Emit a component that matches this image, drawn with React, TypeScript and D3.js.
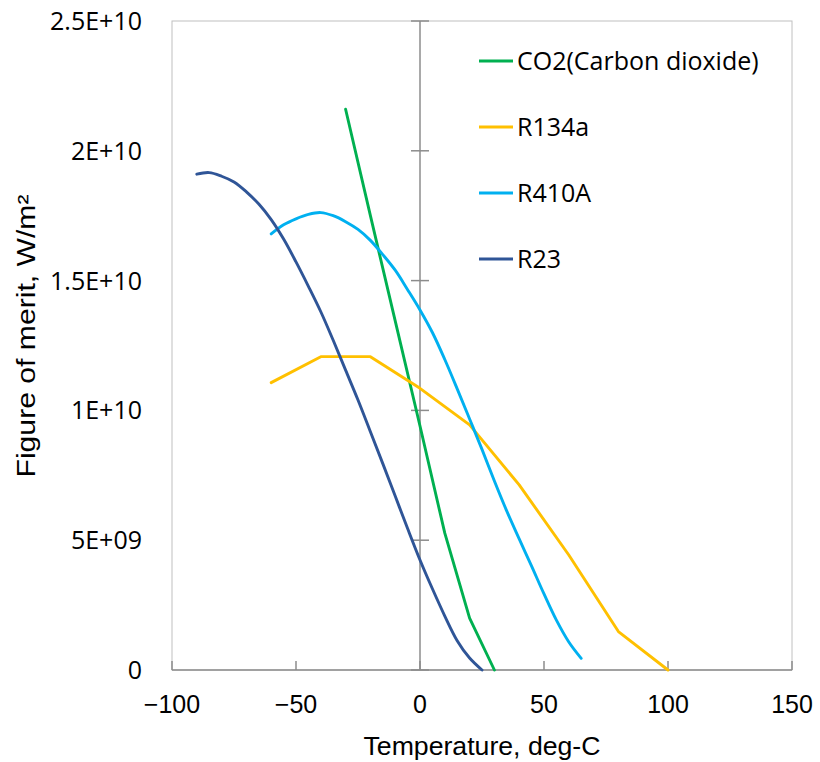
import React from "react";
import * as d3 from "d3";

// ---- data (values in units of 1E+10 W/m^2) ----
const co2T = [-30, -20, -10, 0, 10, 20, 30];
const co2V = [2.16, 1.75, 1.345, 0.94, 0.527, 0.2, 0];

const r134aT = [-60, -40, -20, 0, 20, 40, 60, 80, 100];
const r134aV = [1.107, 1.207, 1.207, 1.085, 0.944, 0.713, 0.443, 0.148, 0];

const r410aT = [-60, -55, -50, -45, -40, -35, -30, -25, -20, -15, -10, -5, 0, 5, 10, 15, 20, 25, 30, 35, 40, 45, 50, 55, 60, 65];
const r410aV = [1.68, 1.715, 1.738, 1.755, 1.762, 1.75, 1.727, 1.697, 1.655, 1.6, 1.54, 1.465, 1.387, 1.3, 1.196, 1.083, 0.967, 0.85, 0.728, 0.612, 0.505, 0.4, 0.293, 0.192, 0.108, 0.045];

const r23T = [-90, -85, -80, -75, -70, -65, -60, -55, -50, -45, -40, -35, -30, -25, -20, -15, -10, -5, 0, 5, 10, 15, 20, 25];
const r23V = [1.91, 1.916, 1.902, 1.88, 1.842, 1.795, 1.735, 1.66, 1.572, 1.478, 1.38, 1.27, 1.155, 1.04, 0.918, 0.795, 0.67, 0.545, 0.424, 0.313, 0.208, 0.113, 0.046, 0];

const seriesNames = ["CO2(Carbon dioxide)", "R134a", "R410A", "R23"];
const seriesColors = ["#00b050", "#ffc000", "#00b0f0", "#2f5597"];

const xTicks = [-100, -50, 0, 50, 100, 150];
const xTickLabels = ["\u2212100", "\u221250", "0", "50", "100", "150"];
const yTicks = [0, 5e9, 1e10, 1.5e10, 2e10, 2.5e10];
const yTickLabels = ["0", "5E+09", "1E+10", "1.5E+10", "2E+10", "2.5E+10"];

const xTitle = "Temperature, deg-C";
const yTitle = "Figure of merit, W/m\u00b2";

const W = 820;
const H = 762;

export default function App() {
  const x = d3.scaleLinear().domain([-100, 150]).range([172, 792]);
  const y = d3.scaleLinear().domain([0, 2.5e10]).range([670, 21]);

  const toPts = (ts: number[], vs: number[]) => ts.map((t, i) => [t, vs[i] * 1e10] as [number, number]);

  const straight = d3
    .line<[number, number]>()
    .x((d) => x(d[0]))
    .y((d) => y(d[1]));
  const smooth = d3
    .line<[number, number]>()
    .x((d) => x(d[0]))
    .y((d) => y(d[1]))
    .curve(d3.curveCatmullRom.alpha(0.5));

  const series = [
    { d: straight(toPts(co2T, co2V)) },
    { d: straight(toPts(r134aT, r134aV)) },
    { d: smooth(toPts(r410aT, r410aV)) },
    { d: smooth(toPts(r23T, r23V)) },
  ];

  const x0 = x(0);
  const yBase = y(0);
  const legendY = [61, 127, 193, 259];

  return (
    <svg
      width={W}
      height={H}
      style={{ position: "absolute", left: 0, top: 0, background: "#fff" }}
    >
      {/* plot border */}
      <rect
        x={x(-100)}
        y={y(2.5e10)}
        width={x(150) - x(-100)}
        height={y(0) - y(2.5e10)}
        fill="none"
        stroke="#c0c0c0"
        strokeWidth={1}
      />
      {/* y axis at x=0 */}
      <line x1={x0} x2={x0} y1={y(2.5e10)} y2={yBase} stroke="#8c8c8c" strokeWidth={1.5} />
      {yTicks.map((t, i) => (
        <line key={"yt" + i} x1={x0 - 9} x2={x0 + 9} y1={y(t)} y2={y(t)} stroke="#8c8c8c" strokeWidth={1.5} />
      ))}
      {/* x axis at y=0 */}
      <line x1={x(-100)} x2={x(150)} y1={yBase} y2={yBase} stroke="#8c8c8c" strokeWidth={1.5} />
      {xTicks.map((t, i) => (
        <line key={"xt" + i} x1={x(t)} x2={x(t)} y1={yBase - 9} y2={yBase} stroke="#8c8c8c" strokeWidth={1.5} />
      ))}

      {/* series */}
      {series.map((s, i) => (
        <path
          key={"s" + i}
          d={s.d || ""}
          fill="none"
          stroke={seriesColors[i]}
          strokeWidth={2.9}
          strokeLinejoin="round"
          strokeLinecap="round"
        />
      ))}

      {/* y tick labels */}
      {yTicks.map((t, i) => (
        <text
          key={"yl" + i}
          x={142}
          y={y(t)}
          dy="0.36em"
          textAnchor="end"
          fontFamily="'Open Sans', sans-serif"
          fontSize={25}
          fill="#000"
        >
          {yTickLabels[i]}
        </text>
      ))}
      {/* x tick labels */}
      {xTicks.map((t, i) => (
        <text
          key={"xl" + i}
          x={x(t)}
          y={713}
          textAnchor="middle"
          fontFamily="'Liberation Sans', Arial, sans-serif"
          fontSize={25}
          fill="#000"
        >
          {xTickLabels[i]}
        </text>
      ))}

      {/* axis titles */}
      <text
        x={482}
        y={755}
        textAnchor="middle"
        fontFamily="'Liberation Sans', Arial, sans-serif"
        fontSize={26}
        textLength={237}
        lengthAdjust="spacingAndGlyphs"
        fill="#000"
      >
        {xTitle}
      </text>
      <text
        transform={`translate(35,336) rotate(-90)`}
        textAnchor="middle"
        fontFamily="'Liberation Sans', Arial, sans-serif"
        fontSize={26}
        textLength={283}
        lengthAdjust="spacingAndGlyphs"
        fill="#000"
      >
        {yTitle}
      </text>

      {/* legend */}
      {seriesNames.map((n, i) => (
        <g key={"lg" + i}>
          <line x1={479} x2={513} y1={legendY[i]} y2={legendY[i]} stroke={seriesColors[i]} strokeWidth={2.9} />
          <text
            x={517}
            y={legendY[i]}
            dy="0.36em"
            fontFamily="'Open Sans', sans-serif"
            fontSize={25}
            fill="#000"
          >
            {n}
          </text>
        </g>
      ))}
    </svg>
  );
}
